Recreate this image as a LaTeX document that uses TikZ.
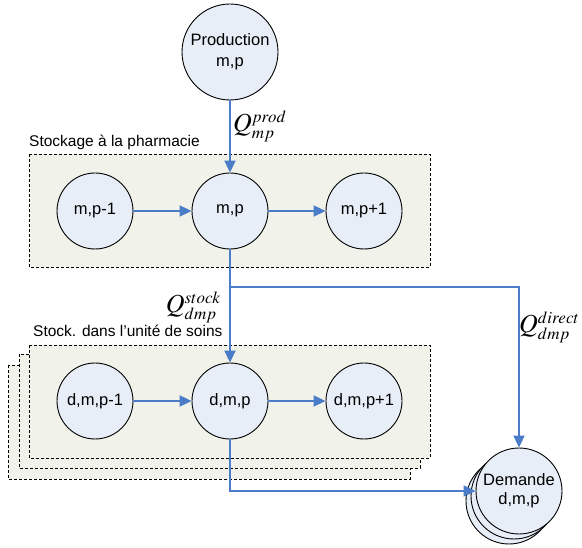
\documentclass[tikz,border=0pt]{standalone}
\usepackage{mathptmx}
\usepackage{fontspec}
\setmainfont{Liberation Sans}
\usetikzlibrary{arrows.meta}
\DeclareMathSizes{26}{26}{17}{12}

\definecolor{fleche}{HTML}{4A7CC8}
\definecolor{fondnoeud}{HTML}{E8EEF8}
\definecolor{fondcadre}{HTML}{F1F2EA}

\tikzset{
    etat/.style={circle, draw, line width=0.9pt, fill=fondnoeud, minimum size=76pt, inner sep=0pt, align=center, font=\fontsize{16.5}{21}\selectfont},
    cadre/.style={draw, fill=fondcadre, dash pattern=on 3pt off 2pt, line width=0.8pt},
    flux/.style={draw=fleche, line width=2pt, -{Triangle[length=12pt,width=11pt]}},
    titre/.style={anchor=base west, inner sep=0pt, font=\fontsize{15.5}{18}\selectfont},
    debit/.style={inner sep=0pt, font=\fontsize{26}{30}\selectfont}
}

\begin{document}
\begin{tikzpicture}[x=1pt, y=-1pt]
    \useasboundingbox (0,0) rectangle (582,548);
    \draw[cadre] (29,154) rectangle (430,267);
    \draw[cadre] (8,365) rectangle (410,479);
    \draw[cadre] (19,354) rectangle (420,468);
    \draw[cadre] (29,345) rectangle (430,458);
    \path node[titre] (tpharma) at (29,147) {Stockage à la pharmacie}
        node[titre] (tsoins) at (33,337) {Stock. dans l’unité de soins}
        node[etat, minimum size=96pt] (prod) at (230,52) {Production\\m,p}
        node[etat] (mpm) at (95,211) {m,p-1}
        node[etat] (mp) at (230,211) {m,p}
        node[etat] (mpp) at (364,211) {m,p+1}
        node[etat] (dmpm) at (95,401) {d,m,p-1}
        node[etat] (dmp) at (230,401) {d,m,p}
        node[etat] (dmpp) at (364,401) {d,m,p+1}
        node[etat, minimum size=86pt] (demB) at (509,501) {}
        node[etat, minimum size=86pt] (demA) at (514,496) {}
        node[etat, minimum size=86pt, font=\fontsize{16.5}{19}\selectfont] (dem) at (519,491) {Demande\\d,m,p}
        node[debit, anchor=base west] (qprod) at (233,132) {$Q^{prod}_{mp}$}
        node[debit, anchor=base east] (qstock) at (221,313) {$Q^{stock}_{dmp}$}
        node[debit, anchor=base west] (qdirect) at (519,333) {$Q^{direct}_{dmp}$};
    \coordinate (split) at (230,287);
    \draw[flux] (prod) -- (mp);
    \draw[flux] (mpm) -- (mp);
    \draw[flux] (mp) -- (mpp);
    \draw[draw=fleche, line width=2pt] (mp) -- (split);
    \draw[flux] (split) -- (dmp);
    \draw[flux] (split) -| (dem.north);
    \draw[flux] (dmpm) -- (dmp);
    \draw[flux] (dmp) -- (dmpp);
    \draw[flux] (dmp) |- (dem);
\end{tikzpicture}
\end{document}
